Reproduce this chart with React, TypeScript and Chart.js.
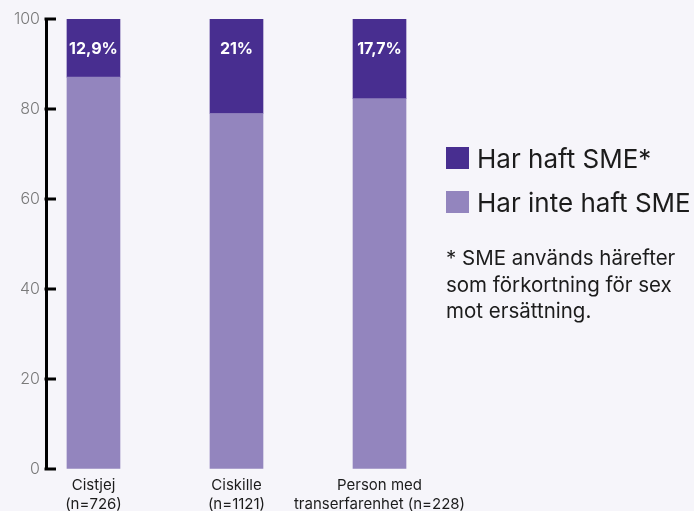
import React, { useEffect, useRef } from "react";
import { Chart, registerables } from "chart.js";

Chart.register(...registerables);

const categories: string[][] = [
  ["Cistjej", "(n=726)"],
  ["Ciskille", "(n=1121)"],
  ["Person med", "transerfarenhet (n=228)"],
];
const positions = [0, 1, 2];
const harHaft = [12.9, 21, 17.7];
const harInteHaft = [87.1, 79, 82.3];
const valueLabels = ["12,9%", "21%", "17,7%"];
const seriesNames = ["Har haft SME*", "Har inte haft SME"];
const footnote = ["* SME används härefter", "som förkortning för sex", "mot ersättning."];

const DARK = "#482e90";
const LIGHT = "#9385be";
const BG = "#f6f5fa";
const FONT = "Inter, 'Noto Sans', sans-serif";

const innerTicks = {
  id: "innerTicks",
  afterDraw(chart: any) {
    const y = chart.scales.y;
    const ctx = chart.ctx;
    const left = chart.chartArea.left;
    ctx.save();
    ctx.strokeStyle = "#000";
    ctx.lineWidth = 3;
    y.ticks.forEach((t: any) => {
      const py = y.getPixelForValue(t.value);
      ctx.beginPath();
      ctx.moveTo(left - 1.5, py);
      ctx.lineTo(left + 10, py);
      ctx.stroke();
    });
    ctx.restore();
  },
};

const valueLabelPlugin = {
  id: "valueLabels",
  afterDatasetsDraw(chart: any) {
    const meta = chart.getDatasetMeta(1);
    const ctx = chart.ctx;
    ctx.save();
    ctx.fillStyle = "#ffffff";
    ctx.font = `700 16px ${FONT}`;
    ctx.textAlign = "center";
    ctx.textBaseline = "middle";
    meta.data.forEach((el: any, i: number) => {
      ctx.fillText(valueLabels[i], el.x, el.y + 30);
    });
    ctx.restore();
  },
};

export default function App() {
  const ref = useRef<HTMLCanvasElement | null>(null);

  useEffect(() => {
    if (!ref.current) return;
    const chart = new Chart(ref.current, {
      type: "bar",
      data: {
        datasets: [
          {
            label: seriesNames[1],
            data: positions.map((p, i) => ({ x: p, y: harInteHaft[i] })),
            backgroundColor: LIGHT,
            barThickness: 53,
          },
          {
            label: seriesNames[0],
            data: positions.map((p, i) => ({ x: p, y: harHaft[i] })),
            backgroundColor: DARK,
            barThickness: 53,
          },
        ],
      },
      options: {
        animation: false,
        responsive: false,
        maintainAspectRatio: false,
        layout: { padding: { top: 19, right: 254, left: 0, bottom: 0 } },
        plugins: {
          legend: { display: false },
          tooltip: { enabled: false },
        },
        scales: {
          x: {
            type: "linear",
            min: -0.332,
            max: 2.423,
            offset: false,
            stacked: true,
            grid: { display: false },
            border: { display: false },
            afterBuildTicks: (scale: any) => {
              scale.ticks = positions.map((v) => ({ value: v }));
            },
            afterFit: (scale: any) => {
              scale.height = 42;
            },
            ticks: {
              autoSkip: false,
              maxRotation: 0,
              minRotation: 0,
              padding: -1,
              color: "#1c1c1c",
              font: { family: FONT, size: 15, lineHeight: 1.27 },
              callback: (value: any) => categories[Math.round(Number(value))] ?? "",
            },
          },
          y: {
            stacked: true,
            min: 0,
            max: 100,
            grid: { display: true, drawOnChartArea: false, drawTicks: false },
            border: { display: true, color: "#000", width: 3 },
            afterFit: (scale: any) => {
              scale.width = 46;
            },
            ticks: {
              stepSize: 20,
              padding: 6,
              color: "#7a7a7a",
              font: { family: FONT, size: 16, weight: 300 },
            },
          },
        },
      },
      plugins: [innerTicks, valueLabelPlugin],
    } as any);
    return () => chart.destroy();
  }, []);

  const legendColors = [DARK, LIGHT];

  return (
    <div
      style={{
        position: "absolute",
        left: 0,
        top: 0,
        width: 694,
        height: 511,
        background: BG,
        overflow: "hidden",
        fontFamily: FONT,
      }}
    >
      <canvas ref={ref} width={694} height={511} style={{ position: "absolute", left: 0, top: 0, width: 694, height: 511 }} />
      {seriesNames.map((name, i) => (
        <div key={name}>
          <div
            style={{
              position: "absolute",
              left: 446,
              top: 147 + i * 44,
              width: 23,
              height: 22,
              background: legendColors[i],
            }}
          />
          <div
            style={{
              position: "absolute",
              left: 477,
              top: 144 + i * 44,
              fontSize: 26,
              lineHeight: "30px",
              color: "#1c1c1c",
              whiteSpace: "nowrap",
            }}
          >
            {name}
          </div>
        </div>
      ))}
      <div
        style={{
          position: "absolute",
          left: 446,
          top: 245,
          fontSize: 20.5,
          lineHeight: "26.5px",
          color: "#1c1c1c",
          whiteSpace: "nowrap",
        }}
      >
        {footnote.map((l) => (
          <div key={l}>{l}</div>
        ))}
      </div>
    </div>
  );
}
